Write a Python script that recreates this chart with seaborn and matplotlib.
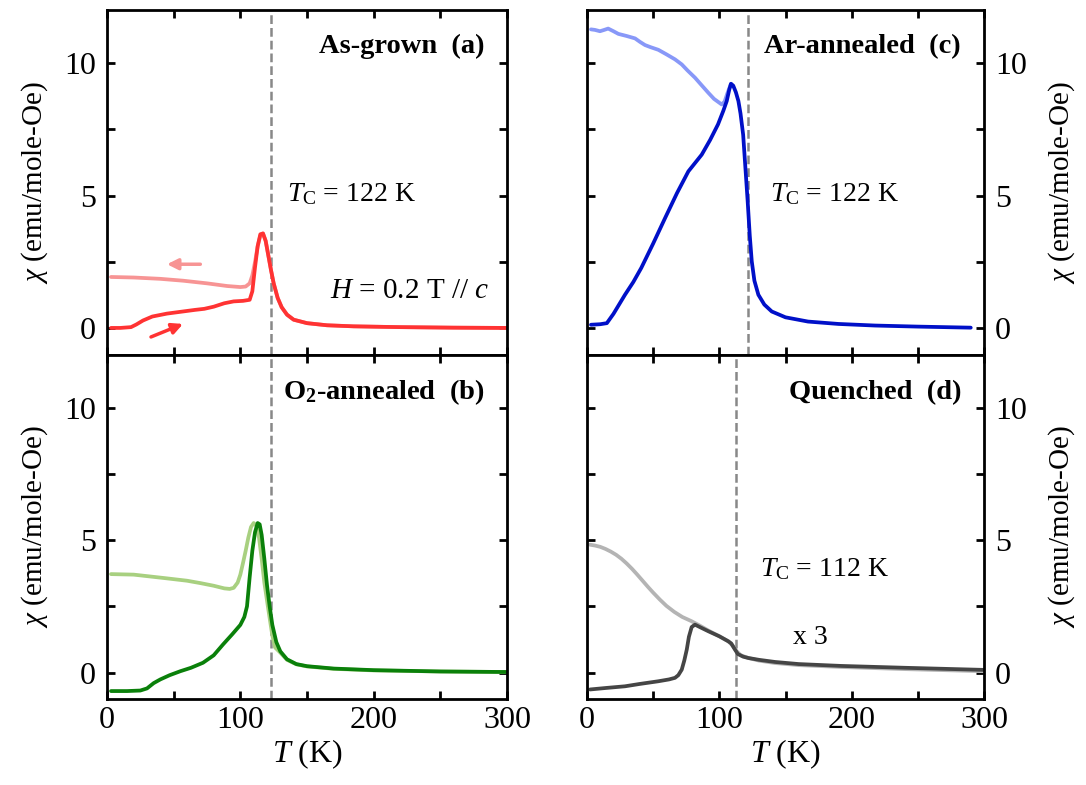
import numpy as np
import pandas as pd
import matplotlib
matplotlib.use("Agg")
import matplotlib.pyplot as plt
from matplotlib.ticker import MultipleLocator
import seaborn as sns

# ---------------- data ----------------
# (a) As-grown
a_zfc_T = [3, 10, 18, 22, 27, 34, 45, 57, 66, 73, 80, 88, 95, 102, 107, 109, 111, 113, 115, 117,
           119, 121, 123, 125, 128, 131, 135, 140, 150, 165, 185, 220, 260, 300]
a_zfc_X = [0.02, 0.02, 0.05, 0.15, 0.30, 0.45, 0.56, 0.64, 0.70, 0.74, 0.82, 0.95, 1.02, 1.04, 1.08,
           1.40, 2.30, 3.10, 3.55, 3.58, 3.30, 2.75, 2.20, 1.70, 1.15, 0.80, 0.52, 0.33, 0.20, 0.12,
           0.08, 0.05, 0.03, 0.02]
a_fc_T = [3, 20, 40, 57, 75, 90, 100, 104, 107, 109, 111, 113, 115, 117, 119, 121, 123, 125, 128,
          131, 135, 140, 150, 165, 185, 220, 260, 300]
a_fc_X = [1.94, 1.92, 1.87, 1.80, 1.70, 1.60, 1.56, 1.58, 1.70, 2.00, 2.50, 3.10, 3.50, 3.58, 3.30,
          2.75, 2.20, 1.70, 1.15, 0.80, 0.52, 0.33, 0.20, 0.12, 0.08, 0.05, 0.03, 0.02]

# (b) O2-annealed
b_zfc_T = [3, 15, 25, 30, 35, 40, 47, 55, 63, 72, 80, 87, 94, 100, 103, 105, 107, 109, 111, 113,
           114.5, 116, 118, 120, 122, 124, 127, 130, 135, 142, 150, 170, 200, 250, 300]
b_zfc_X = [-0.70, -0.70, -0.68, -0.60, -0.40, -0.26, -0.10, 0.05, 0.18, 0.37, 0.65, 1.06, 1.45, 1.80,
           2.10, 2.50, 3.60, 4.60, 5.30, 5.65, 5.60, 5.20, 4.30, 3.30, 2.50, 1.80, 1.15, 0.80, 0.50,
           0.32, 0.24, 0.15, 0.09, 0.04, 0.02]
b_fc_T = [3, 20, 43, 60, 70, 80, 88, 92, 95, 98, 100, 102, 104, 106, 108, 110, 112, 114, 116, 118,
          121, 124, 126, 130, 135, 142, 150, 170, 200, 250, 300]
b_fc_X = [3.72, 3.70, 3.57, 3.47, 3.38, 3.28, 3.18, 3.16, 3.20, 3.40, 3.70, 4.14, 4.60, 5.10, 5.50,
          5.65, 5.55, 5.10, 4.30, 3.40, 2.38, 1.40, 0.95, 0.75, 0.48, 0.31, 0.23, 0.14, 0.08, 0.04, 0.02]

# (c) Ar-annealed
c_zfc_T = [3, 10, 15, 20, 28.7, 35, 41, 50, 59, 68, 76.6, 86.7, 93, 99, 103, 105.6, 107.5, 108.8,
           110.5, 112.5, 114.4, 116, 118, 119.5, 121.4, 123, 124.5, 126.5, 129.5, 134, 139.6, 150,
           167, 190, 217.7, 250, 290]
c_zfc_X = [0.14, 0.16, 0.20, 0.55, 1.27, 1.75, 2.28, 3.20, 4.16, 5.10, 5.92, 6.55, 7.10, 7.69, 8.20,
           8.57, 9.00, 9.22, 9.15, 8.90, 8.57, 8.10, 7.30, 6.20, 4.80, 3.50, 2.53, 1.80, 1.27, 0.90,
           0.64, 0.42, 0.26, 0.17, 0.11, 0.07, 0.03]
c_fc_T = [3, 6, 9.8, 13, 16, 20, 23.7, 30, 36.3, 40, 43.8, 48, 53.9, 60, 66.5, 71.6, 76, 81.6, 86,
          91.7, 96, 101.8, 104, 106, 108.8]
c_fc_X = [11.27, 11.25, 11.20, 11.25, 11.30, 11.20, 11.10, 11.02, 10.93, 10.80, 10.68, 10.60, 10.50,
          10.33, 10.14, 9.95, 9.72, 9.45, 9.20, 8.88, 8.65, 8.44, 8.55, 8.85, 9.22]

# (d) Quenched (x 3)
d_fc_T = [2.3, 6, 10, 14, 18, 22, 26, 30, 34, 38, 42, 46, 50, 55, 60, 66, 72, 79, 85, 92, 100,
          106.8, 110, 112.8, 116, 121.9, 130, 142, 160, 192, 240, 300]
d_fc_X = [4.83, 4.80, 4.75, 4.67, 4.57, 4.45, 4.30, 4.12, 3.92, 3.70, 3.47, 3.24, 3.02, 2.76, 2.52,
          2.29, 2.10, 1.94, 1.78, 1.58, 1.37, 1.18, 1.02, 0.82, 0.66, 0.55, 0.45, 0.36, 0.28, 0.21,
          0.13, 0.05]
d_zfc_T = [2.3, 15, 28.7, 40, 53.9, 62, 66.5, 69, 71.6, 73.5, 75.4, 77, 79.1, 81.6, 86, 91.7, 100,
           106.8, 109, 111.8, 114, 118, 121.9, 130, 142, 160, 192, 240, 300]
d_zfc_X = [-0.64, -0.58, -0.52, -0.43, -0.33, -0.26, -0.20, -0.10, 0.11, 0.45, 0.87, 1.35, 1.72, 1.81,
           1.70, 1.56, 1.37, 1.18, 1.10, 0.87, 0.70, 0.60, 0.55, 0.48, 0.40, 0.32, 0.25, 0.18, 0.10]

x_ticks = [0, 100, 200, 300]
y_ticks = [0, 5, 10]

# ---------------- style ----------------
sns.set_style("ticks")
plt.rcParams["font.family"] = ["Liberation Serif", "DejaVu Serif"]
plt.rcParams["mathtext.fontset"] = "custom"
plt.rcParams["mathtext.rm"] = "Liberation Serif"
plt.rcParams["mathtext.it"] = "Liberation Serif:italic"
plt.rcParams["mathtext.bf"] = "Liberation Serif:bold"
plt.rcParams["text.color"] = "black"
plt.rcParams["axes.labelcolor"] = "black"
plt.rcParams["xtick.color"] = "black"
plt.rcParams["ytick.color"] = "black"

fig = plt.figure(figsize=(10.86, 7.85), dpi=100)
W, H = 1086, 785


def make_ax(x0, x1, ytop, ybot):
    return fig.add_axes([x0 / W, 1 - ybot / H, (x1 - x0) / W, (ybot - ytop) / H])


ax_a = make_ax(107, 507, 10, 355)
ax_b = make_ax(107, 507, 355, 699)
ax_c = make_ax(587, 984, 10, 355)
ax_d = make_ax(587, 984, 355, 699)

tick_fs = 23
lab_fs = 21


def style(ax, right=False, bottom=False):
    ax.set_xlim(0, 300)
    ax.set_ylim(-1, 12)
    ax.set_xticks(x_ticks)
    ax.set_yticks(y_ticks)
    ax.xaxis.set_minor_locator(MultipleLocator(50))
    ax.yaxis.set_minor_locator(MultipleLocator(2.5))
    for s in ax.spines.values():
        s.set_visible(True)
        s.set_linewidth(2.0)
        s.set_color("black")
    ax.tick_params(which="both", direction="in", top=True, bottom=True, left=True, right=True,
                   width=2.0, length=6, labelsize=tick_fs, colors="black")
    ax.tick_params(axis="x", labelbottom=bottom, pad=5)
    if right:
        ax.tick_params(axis="y", labelleft=False, labelright=True, pad=8)
        ax.yaxis.set_label_position("right")
        ax.set_ylabel(r"$\chi$ (emu/mole-Oe)", fontsize=lab_fs, labelpad=14)
    else:
        ax.tick_params(axis="y", labelleft=True, labelright=False, pad=8)
        ax.set_ylabel(r"$\chi$ (emu/mole-Oe)", fontsize=lab_fs, labelpad=10)
    if bottom:
        ax.set_xlabel(r"$T$ (K)", fontsize=23, labelpad=2)
    else:
        ax.set_xlabel("")


def curve(ax, T, X, color, lw=2.7):
    df = pd.DataFrame({"T": T, "chi": X})
    sns.lineplot(data=df, x="T", y="chi", ax=ax, color=color, lw=lw, estimator=None,
                 sort=False, solid_capstyle="round", solid_joinstyle="round")


dash_kw = dict(color="#888888", lw=1.8, ls=(0, (3.5, 1.6)), zorder=1)
bold_fs = 20.5

# (a)
curve(ax_a, a_fc_T, a_fc_X, "#f79494")
curve(ax_a, a_zfc_T, a_zfc_X, "#ff3333")
ax_a.axvline(123, **dash_kw)
ax_a.annotate("", xy=(45, 2.42), xytext=(70, 2.42),
              arrowprops=dict(arrowstyle="-|>", color="#f79494", lw=2.5, mutation_scale=16,
                              shrinkA=0, shrinkB=0))
ax_a.annotate("", xy=(57, 0.17), xytext=(33, -0.32),
              arrowprops=dict(arrowstyle="-|>", color="#ff3333", lw=2.5, mutation_scale=16,
                              shrinkA=0, shrinkB=0))
ax_a.text(283, 10.62, "As-grown  (a)", ha="right", va="center", fontsize=bold_fs, fontweight="bold")
ax_a.text(135, 5.05, r"$T_{\rm C}$ = 122 K", ha="left", va="center", fontsize=20)
ax_a.text(287, 1.4, r"$H$ = 0.2 T // $c$", ha="right", va="center", fontsize=21)
style(ax_a)

# (b)
curve(ax_b, b_fc_T, b_fc_X, "#a8d080")
curve(ax_b, b_zfc_T, b_zfc_X, "#0a800a")
ax_b.axvline(123, **dash_kw)
ax_b.text(283, 10.6, r"O$_\mathbf{2}$-annealed  (b)", ha="right", va="center", fontsize=bold_fs,
          fontweight="bold")
style(ax_b, bottom=True)

# (c)
curve(ax_c, c_fc_T, c_fc_X, "#8898f8")
curve(ax_c, c_zfc_T, c_zfc_X, "#0010c8")
ax_c.axvline(122, **dash_kw)
ax_c.text(282, 10.62, "Ar-annealed  (c)", ha="right", va="center", fontsize=bold_fs, fontweight="bold")
ax_c.text(138, 5.05, r"$T_{\rm C}$ = 122 K", ha="left", va="center", fontsize=20)
style(ax_c, right=True)

# (d)
curve(ax_d, d_fc_T, d_fc_X, "#b4b4b4")
curve(ax_d, d_zfc_T, d_zfc_X, "#454545")
ax_d.axvline(112.5, **dash_kw)
ax_d.text(283, 10.57, "Quenched  (d)", ha="right", va="center", fontsize=bold_fs, fontweight="bold")
ax_d.text(131, 3.9, r"$T_{\rm C}$ = 112 K", ha="left", va="center", fontsize=20)
ax_d.text(156, 1.32, "x 3", ha="left", va="center", fontsize=20)
style(ax_d, right=True, bottom=True)

fig.savefig("out.png", dpi=100)
